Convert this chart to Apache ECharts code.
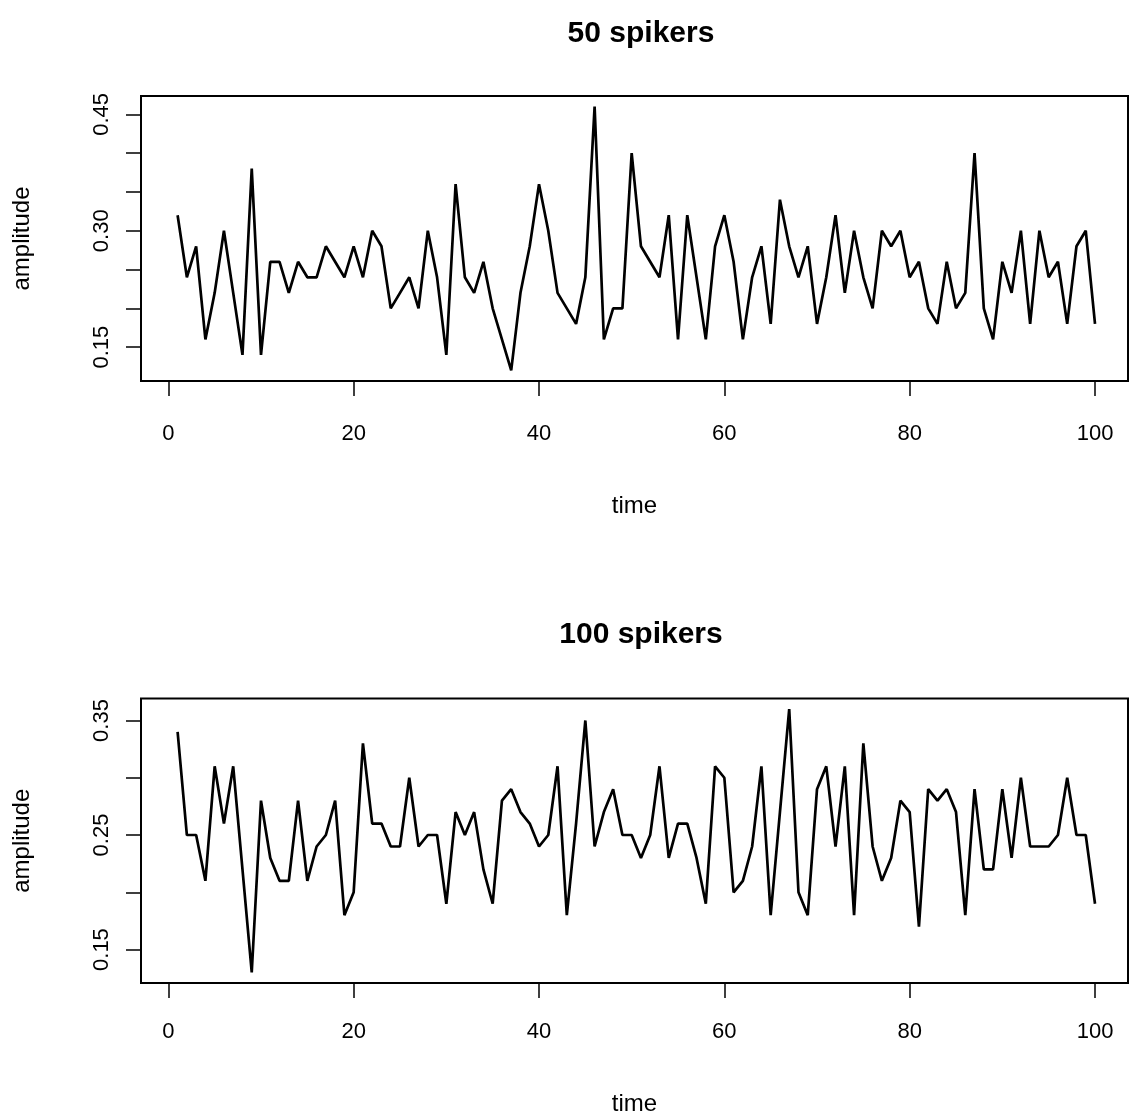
<!DOCTYPE html>
<html>
<head>
<meta charset="utf-8">
<script src="https://cdn.jsdelivr.net/npm/echarts@6/dist/echarts.min.js"></script>
<style>html,body{margin:0;padding:0;background:#fff}#c{width:1129px;height:1117px}</style>
</head>
<body>
<div id="c"></div>
<script>
const timeSteps = Array.from({length: 100}, (_, i) => i + 1);
const amp50 = [
  0.32,0.24,0.28,0.16,0.22,0.30,0.22,0.14,0.38,0.14,
  0.26,0.26,0.22,0.26,0.24,0.24,0.28,0.26,0.24,0.28,
  0.24,0.30,0.28,0.20,0.22,0.24,0.20,0.30,0.24,0.14,
  0.36,0.24,0.22,0.26,0.20,0.16,0.12,0.22,0.28,0.36,
  0.30,0.22,0.20,0.18,0.24,0.46,0.16,0.20,0.20,0.40,
  0.28,0.26,0.24,0.32,0.16,0.32,0.24,0.16,0.28,0.32,
  0.26,0.16,0.24,0.28,0.18,0.34,0.28,0.24,0.28,0.18,
  0.24,0.32,0.22,0.30,0.24,0.20,0.30,0.28,0.30,0.24,
  0.26,0.20,0.18,0.26,0.20,0.22,0.40,0.20,0.16,0.26,
  0.22,0.30,0.18,0.30,0.24,0.26,0.18,0.28,0.30,0.18
];
const amp100 = [
  0.34,0.25,0.25,0.21,0.31,0.26,0.31,0.22,0.13,0.28,
  0.23,0.21,0.21,0.28,0.21,0.24,0.25,0.28,0.18,0.20,
  0.33,0.26,0.26,0.24,0.24,0.30,0.24,0.25,0.25,0.19,
  0.27,0.25,0.27,0.22,0.19,0.28,0.29,0.27,0.26,0.24,
  0.25,0.31,0.18,0.26,0.35,0.24,0.27,0.29,0.25,0.25,
  0.23,0.25,0.31,0.23,0.26,0.26,0.23,0.19,0.31,0.30,
  0.20,0.21,0.24,0.31,0.18,0.27,0.36,0.20,0.18,0.29,
  0.31,0.24,0.31,0.18,0.33,0.24,0.21,0.23,0.28,0.27,
  0.17,0.29,0.28,0.29,0.27,0.18,0.29,0.22,0.22,0.29,
  0.23,0.30,0.24,0.24,0.24,0.25,0.30,0.25,0.25,0.19
];
const xTicks = [0, 20, 40, 60, 80, 100];
const yTicksTop = [0.15, 0.20, 0.25, 0.30, 0.35, 0.40, 0.45];
const yLabelsTop = [0.15, 0.30, 0.45];
const yTicksBottom = [0.15, 0.20, 0.25, 0.30, 0.35];
const yLabelsBottom = [0.15, 0.25, 0.35];
const titles = ['50 spikers', '100 spikers'];

const FONT = 'Liberation Sans, Arial, Helvetica, sans-serif';
const chart = echarts.init(document.getElementById('c'), null, {renderer: 'canvas'});

function xAxisCfg(gridIndex, nameGap, labelMargin) {
  return {
    type: 'value', gridIndex, min: -2.95, max: 103.56,
    name: 'time', nameLocation: 'middle', nameGap,
    nameTextStyle: {fontFamily: FONT, fontSize: 24, color: '#000', verticalAlign: 'middle'},
    axisLine: {show: false, onZero: false},
    axisTick: {show: true, customValues: xTicks, length: 15, inside: false, lineStyle: {color: '#000', width: 1.5}},
    axisLabel: {show: true, customValues: xTicks, margin: labelMargin, fontFamily: FONT, fontSize: 22, color: '#000'},
    splitLine: {show: false}
  };
}
function yAxisCfg(gridIndex, min, max, ticks, labels) {
  return {
    type: 'value', gridIndex, min, max,
    name: 'amplitude', nameLocation: 'middle', nameGap: 119, nameRotate: 90,
    nameTextStyle: {fontFamily: FONT, fontSize: 24, color: '#000', verticalAlign: 'middle'},
    axisLine: {show: false, onZero: false},
    axisTick: {show: true, customValues: ticks, length: 15, inside: false, lineStyle: {color: '#000', width: 1.5}},
    axisLabel: {show: true, customValues: labels, rotate: 90, margin: 28, fontFamily: FONT, fontSize: 22, color: '#000',
      formatter: v => v.toFixed(2)},
    splitLine: {show: false}
  };
}

const option = {
  animation: false,
  backgroundColor: '#fff',
  title: [
    {text: titles[0], left: 636, top: 14, textAlign: 'center',
     textStyle: {fontFamily: FONT, fontSize: 30, fontWeight: 'bold', color: '#000'}},
    {text: titles[1], left: 636, top: 615, textAlign: 'center',
     textStyle: {fontFamily: FONT, fontSize: 30, fontWeight: 'bold', color: '#000'}}
  ],
  grid: [
    {left: 141, top: 96, width: 987, height: 285, show: true, borderColor: '#000', borderWidth: 2, backgroundColor: 'transparent'},
    {left: 141, top: 698.5, width: 987, height: 286, show: true, borderColor: '#000', borderWidth: 2, backgroundColor: 'transparent'}
  ],
  xAxis: [xAxisCfg(0, 125, 42), xAxisCfg(1, 121, 38)],
  yAxis: [
    yAxisCfg(0, 0.1064, 0.4736, yTicksTop, yLabelsTop),
    yAxisCfg(1, 0.1208, 0.3692, yTicksBottom, yLabelsBottom)
  ],
  series: [
    {type: 'line', xAxisIndex: 0, yAxisIndex: 0, data: timeSteps.map((t, i) => [t, amp50[i]]),
     showSymbol: false, lineStyle: {color: '#000', width: 2.7}, itemStyle: {color: '#000'}},
    {type: 'line', xAxisIndex: 1, yAxisIndex: 1, data: timeSteps.map((t, i) => [t, amp100[i]]),
     showSymbol: false, lineStyle: {color: '#000', width: 2.7}, itemStyle: {color: '#000'}}
  ]
};
chart.setOption(option);
</script>
</body>
</html>
